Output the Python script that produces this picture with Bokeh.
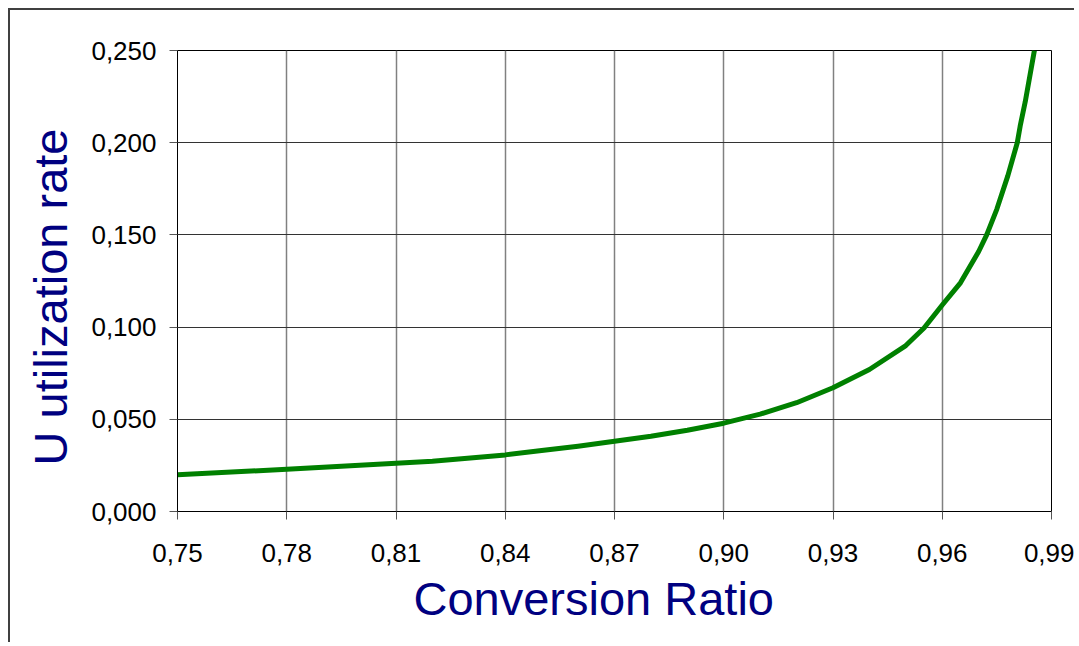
from bokeh.plotting import figure
from bokeh.models import Range1d, FixedTicker, CustomJSTickFormatter, Title
from bokeh.embed import file_html
from bokeh.resources import INLINE

# Data
conversion_ratio = [0.75, 0.78, 0.81, 0.82, 0.84, 0.85, 0.86, 0.87, 0.88, 0.89, 0.90,
                    0.91, 0.92, 0.93, 0.94, 0.95, 0.955, 0.96, 0.965, 0.97, 0.9722,
                    0.975, 0.978, 0.9806, 0.9814, 0.9828, 0.9853]
u_utilization = [0.0199, 0.0229, 0.0262, 0.0273, 0.0307, 0.0331, 0.0354, 0.0381, 0.0408,
                 0.0441, 0.0479, 0.0528, 0.0590, 0.0671, 0.0770, 0.0900, 0.0995, 0.1120,
                 0.1240, 0.1410, 0.1500, 0.1640, 0.1820, 0.2000, 0.2090, 0.2223, 0.2500]
x_ticks = [0.75, 0.78, 0.81, 0.84, 0.87, 0.90, 0.93, 0.96, 0.99]
y_ticks = [0.0, 0.05, 0.10, 0.15, 0.20, 0.25]
x_title = "Conversion Ratio"
y_title = "U utilization rate"

W, H = 1066, 634
p = figure(width=W, height=H, output_backend="svg", toolbar_location=None,
           x_range=Range1d(0.75, 0.99), y_range=Range1d(0.0, 0.25),
           min_border_left=166, min_border_top=40, min_border_right=25,
           min_border_bottom=133)
p.styles = {"border-left": "2px solid #404040", "border-top": "2px solid #404040",
            "margin-left": "8px", "margin-top": "8px"}

p.line(conversion_ratio, u_utilization, line_color="#008000", line_width=5,
       line_join="round")

p.outline_line_color = "black"
p.outline_line_width = 1

p.xaxis.ticker = FixedTicker(ticks=x_ticks)
p.yaxis.ticker = FixedTicker(ticks=y_ticks)
p.xaxis.formatter = CustomJSTickFormatter(code="return tick.toFixed(2).replace('.', ',');")
p.yaxis.formatter = CustomJSTickFormatter(code="return tick.toFixed(3).replace('.', ',');")

for ax in (p.xaxis[0], p.yaxis[0]):
    ax.axis_line_color = "black"
    ax.axis_line_width = 1
    ax.major_tick_line_color = "#555555"
    ax.major_tick_out = 8
    ax.major_tick_in = 0
    ax.minor_tick_line_color = None
    ax.major_label_text_font = "Liberation Sans"
    ax.major_label_text_font_size = "26px"
    ax.major_label_text_color = "black"

p.xaxis.major_label_standoff = 24
p.yaxis.major_label_standoff = 13

# Axis titles as side titles, placed off-centre as in the reference
p.add_layout(Title(text=x_title, align="left", offset=236, standoff=10,
                   text_font="Liberation Sans", text_font_size="47px",
                   text_font_style="normal", text_color="#000080"), "below")
p.add_layout(Title(text=y_title, align="left", offset=46, standoff=23,
                   text_font="Liberation Sans", text_font_size="47px",
                   text_font_style="normal", text_color="#000080"), "left")

p.xgrid.ticker = FixedTicker(ticks=x_ticks)
p.ygrid.ticker = FixedTicker(ticks=y_ticks)
p.xgrid.grid_line_color = "#808080"
p.xgrid.grid_line_width = 1.5
p.ygrid.grid_line_color = "#333333"
p.ygrid.grid_line_width = 1
p.background_fill_color = "white"
p.border_fill_color = "white"

open("out.html", "w").write(file_html(p, INLINE))
